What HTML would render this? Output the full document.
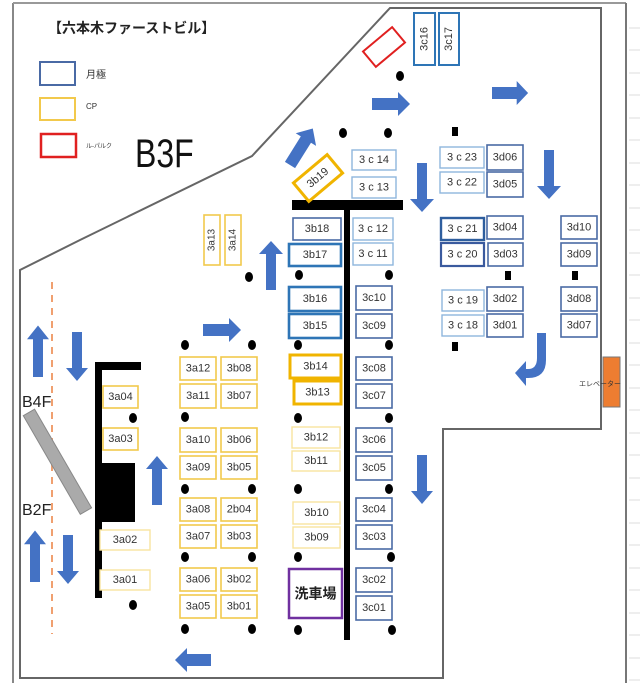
<!DOCTYPE html>
<html><head><meta charset="utf-8"><style>
html,body{margin:0;padding:0;background:#fff;}
svg{display:block;}
text{font-family:"Liberation Sans","Noto Sans CJK JP",sans-serif;fill:#333;}
.l{font-size:11px;text-anchor:middle;dominant-baseline:central;}
.b{fill:#fff;stroke:#4a6aa5;stroke-width:1.6;}
.bt{fill:#fff;stroke:#2e75b6;stroke-width:2.6;}
.bl{fill:#fff;stroke:#8fb6dd;stroke-width:1.4;}
.y{fill:#fff;stroke:#f2c94c;stroke-width:1.6;}
.yt{fill:#fff;stroke:#f0b400;stroke-width:3;}
.yl{fill:#fff;stroke:#f7e3a0;stroke-width:1.4;}
.ar{fill:#4472c4;}
</style></head><body>
<svg width="640" height="692" viewBox="0 0 640 692" xmlns="http://www.w3.org/2000/svg">
<!-- spreadsheet frame -->
<line x1="13" y1="3" x2="13" y2="683" stroke="#888" stroke-width="2"/>
<line x1="13" y1="3" x2="626" y2="3" stroke="#999" stroke-width="2"/>
<line x1="626" y1="3" x2="626" y2="683" stroke="#777" stroke-width="2"/>
<g stroke="#ddd" stroke-width="1">
<line x1="629" y1="28" x2="640" y2="28"/><line x1="629" y1="50" x2="640" y2="50"/><line x1="629" y1="73" x2="640" y2="73"/><line x1="629" y1="95" x2="640" y2="95"/><line x1="629" y1="118" x2="640" y2="118"/><line x1="629" y1="140" x2="640" y2="140"/><line x1="629" y1="163" x2="640" y2="163"/><line x1="629" y1="185" x2="640" y2="185"/><line x1="629" y1="208" x2="640" y2="208"/><line x1="629" y1="230" x2="640" y2="230"/><line x1="629" y1="253" x2="640" y2="253"/><line x1="629" y1="275" x2="640" y2="275"/><line x1="629" y1="298" x2="640" y2="298"/><line x1="629" y1="320" x2="640" y2="320"/><line x1="629" y1="343" x2="640" y2="343"/><line x1="629" y1="365" x2="640" y2="365"/><line x1="629" y1="388" x2="640" y2="388"/><line x1="629" y1="410" x2="640" y2="410"/><line x1="629" y1="433" x2="640" y2="433"/><line x1="629" y1="455" x2="640" y2="455"/><line x1="629" y1="478" x2="640" y2="478"/><line x1="629" y1="500" x2="640" y2="500"/><line x1="629" y1="523" x2="640" y2="523"/><line x1="629" y1="545" x2="640" y2="545"/><line x1="629" y1="568" x2="640" y2="568"/><line x1="629" y1="590" x2="640" y2="590"/><line x1="629" y1="613" x2="640" y2="613"/><line x1="629" y1="635" x2="640" y2="635"/><line x1="629" y1="658" x2="640" y2="658"/><line x1="629" y1="680" x2="640" y2="680"/>
</g>
<!-- building outline -->
<path d="M20,678 V270 L80,240 L252,156 L390,8 H601 V429 H443 V678 Z" fill="none" stroke="#666" stroke-width="2"/>
<!-- title & legend -->
<text x="48" y="33" style="font-size:14px;font-weight:bold;fill:#222">【六本木ファーストビル】</text>
<rect x="40" y="62" width="35" height="23" fill="none" stroke="#4a6aa5" stroke-width="2"/>
<text x="86" y="78" style="font-size:10px">月極</text>
<rect x="40" y="98" width="35" height="22" fill="none" stroke="#f2c94c" stroke-width="2"/>
<text x="86" y="109" style="font-size:8px">CP</text>
<rect x="41" y="134" width="35" height="23" fill="none" stroke="#e02020" stroke-width="2.5"/>
<text x="86" y="148" style="font-size:6px">ル-パルク</text>
<text x="135" y="167" style="font-size:40px;fill:#111" transform="translate(135 167) scale(0.8 1) translate(-135 -167)">B3F</text>
<!-- dashed orange line -->
<line x1="52" y1="282" x2="52" y2="634" stroke="#f0a070" stroke-width="2" stroke-dasharray="7 6"/>
<!-- walls -->
<rect x="292" y="200" width="111" height="10" fill="#000"/>
<rect x="344" y="200" width="6" height="440" fill="#000"/>
<rect x="95" y="362" width="46" height="8" fill="#000"/>
<rect x="95" y="362" width="7" height="236" fill="#000"/>
<rect x="95" y="463" width="40" height="59" fill="#000"/>
<!-- ramp -->
<rect x="-6" y="-57" width="13" height="114" fill="#aaa" stroke="#888" transform="translate(57 462) rotate(-30)"/>
<text x="22" y="407" style="font-size:16px;fill:#222">B4F</text>
<text x="22" y="515" style="font-size:16px;fill:#222">B2F</text>
<!-- elevator -->
<rect x="603" y="357" width="17" height="50" fill="#ed7d31" stroke="#777"/>
<text x="600" y="386" style="font-size:7px;text-anchor:middle">エレベーター</text>
<!-- red rulepark -->
<rect x="-19" y="-10" width="38" height="20" fill="#fff" stroke="#e02020" stroke-width="2" transform="translate(384 47) rotate(-40)"/>
<!-- arrows -->
<g class="ar">
<path d="M0,-6H26V-12L38,0L26,12V6H0Z" transform="translate(372 104)"/>
<path d="M0,-6H26V-12L38,0L26,12V6H0Z" transform="translate(492 93) scale(0.95 1)"/>
<path d="M0,-6H30V-12L43,0L30,12V6H0Z" transform="translate(290 165) rotate(-58)"/>
<path d="M0,-5H36V-12L49,0L36,12V5H0Z" transform="translate(422 163) rotate(90)"/>
<path d="M0,-5H36V-12L49,0L36,12V5H0Z" transform="translate(549 150) rotate(90)"/>
<path d="M0,-5H36V-12L49,0L36,12V5H0Z" transform="translate(271 290) rotate(-90)"/>
<path d="M0,-5H36V-11L49,0L36,11V5H0Z" transform="translate(38 377) rotate(-90) scale(1.05 1)"/>
<path d="M0,-5H36V-11L49,0L36,11V5H0Z" transform="translate(77 332) rotate(90)"/>
<path d="M0,-5H36V-11L49,0L36,11V5H0Z" transform="translate(35 582) rotate(-90) scale(1.05 1)"/>
<path d="M0,-5H36V-11L49,0L36,11V5H0Z" transform="translate(68 535) rotate(90)"/>
<path d="M0,-6H26V-12L38,0L26,12V6H0Z" transform="translate(203 330)"/>
<path d="M0,-5H36V-11L49,0L36,11V5H0Z" transform="translate(157 505) rotate(-90)"/>
<path d="M0,-5H36V-11L49,0L36,11V5H0Z" transform="translate(422 455) rotate(90)"/>
<path d="M0,-6H24V-12L36,0L24,12V6H0Z" transform="translate(211 660) rotate(180)"/>
<path d="M537,333 H546 V360 Q546,378 528,378 H526 V386 L515,373 L526,361 V369 H528 Q537,369 537,358 Z"/>
</g>
<!-- dots -->
<g fill="#000">
<ellipse cx="400" cy="76" rx="4" ry="5"/>
<ellipse cx="343" cy="133" rx="4" ry="5"/><ellipse cx="388" cy="133" rx="4" ry="5"/>
<ellipse cx="249" cy="277" rx="4" ry="5"/>
<ellipse cx="299" cy="275" rx="4" ry="5"/><ellipse cx="389" cy="275" rx="4" ry="5"/>
<rect x="452" y="127" width="6" height="9"/>
<rect x="505" y="271" width="6" height="9"/><rect x="572" y="271" width="6" height="9"/>
<rect x="452" y="342" width="6" height="9"/>
<ellipse cx="185" cy="345" rx="4" ry="5"/><ellipse cx="252" cy="345" rx="4" ry="5"/>
<ellipse cx="298" cy="345" rx="4" ry="5"/><ellipse cx="389" cy="345" rx="4" ry="5"/>
<ellipse cx="133" cy="418" rx="4" ry="5"/><ellipse cx="185" cy="417" rx="4" ry="5"/>
<ellipse cx="298" cy="418" rx="4" ry="5"/><ellipse cx="389" cy="418" rx="4" ry="5"/>
<ellipse cx="185" cy="489" rx="4" ry="5"/><ellipse cx="252" cy="489" rx="4" ry="5"/>
<ellipse cx="298" cy="489" rx="4" ry="5"/><ellipse cx="389" cy="489" rx="4" ry="5"/>
<ellipse cx="185" cy="557" rx="4" ry="5"/><ellipse cx="252" cy="557" rx="4" ry="5"/>
<ellipse cx="298" cy="557" rx="4" ry="5"/><ellipse cx="391" cy="557" rx="4" ry="5"/>
<ellipse cx="133" cy="605" rx="4" ry="5"/>
<ellipse cx="185" cy="629" rx="4" ry="5"/><ellipse cx="252" cy="629" rx="4" ry="5"/>
<ellipse cx="298" cy="630" rx="4" ry="5"/><ellipse cx="392" cy="630" rx="4" ry="5"/>
</g>
<!-- vertical boxes -->
<rect x="414" y="13" width="21" height="52" class="bt" style="stroke-width:2"/>
<text class="l" transform="translate(424.5 39) rotate(-90)">3c16</text>
<rect x="439" y="13" width="20" height="52" class="bt" style="stroke-width:2"/>
<text class="l" transform="translate(449 39) rotate(-90)">3c17</text>
<rect x="204" y="215" width="16" height="50" class="y"/>
<text class="l" style="font-size:10px" transform="translate(212 240) rotate(-90)">3a13</text>
<rect x="225" y="215" width="16" height="50" class="y"/>
<text class="l" style="font-size:10px" transform="translate(233 240) rotate(-90)">3a14</text>
<g transform="translate(318 178) rotate(-40)">
<rect x="-22" y="-12" width="44" height="24" fill="#fff" stroke="#f0b400" stroke-width="3"/>
<text class="l" x="0" y="0">3b19</text></g>
<!-- boxes -->
<g>
<rect x="352" y="150" width="44" height="20" class="bl"/><text class="l" x="374" y="160">3 c 14</text>
<rect x="352" y="177" width="44" height="21" class="bl"/><text class="l" x="374" y="187.5">3 c 13</text>
<rect x="440" y="147" width="44" height="21" class="bl"/><text class="l" x="462" y="157.5">3 c 23</text>
<rect x="440" y="172" width="44" height="21" class="bl"/><text class="l" x="462" y="182.5">3 c 22</text>
<rect x="487" y="145" width="36" height="25" class="b"/><text class="l" x="505" y="157.5">3d06</text>
<rect x="487" y="172" width="36" height="25" class="b"/><text class="l" x="505" y="184.5">3d05</text>
<rect x="293" y="218" width="48" height="22" class="b"/><text class="l" x="317" y="229">3b18</text>
<rect x="289" y="244" width="52" height="22" class="bt"/><text class="l" x="315" y="255">3b17</text>
<rect x="353" y="218" width="40" height="22" class="bl"/><text class="l" x="373" y="229">3 c 12</text>
<rect x="353" y="243" width="40" height="22" class="bl"/><text class="l" x="373" y="254">3 c 11</text>
<rect x="441" y="218" width="43" height="22" class="b" style="stroke:#2e5e9e;stroke-width:2.4"/><text class="l" x="462.5" y="229">3 c 21</text>
<rect x="441" y="243" width="43" height="23" class="b" style="stroke:#3a5a9e;stroke-width:2.2"/><text class="l" x="462.5" y="254.5">3 c 20</text>
<rect x="487" y="216" width="36" height="23" class="b"/><text class="l" x="505" y="227.5">3d04</text>
<rect x="488" y="243" width="35" height="23" class="b"/><text class="l" x="505.5" y="254.5">3d03</text>
<rect x="561" y="216" width="36" height="23" class="b"/><text class="l" x="579" y="227.5">3d10</text>
<rect x="561" y="243" width="36" height="23" class="b"/><text class="l" x="579" y="254.5">3d09</text>
<rect x="289" y="287" width="52" height="24" class="bt"/><text class="l" x="315" y="299">3b16</text>
<rect x="289" y="314" width="52" height="24" class="bt"/><text class="l" x="315" y="326">3b15</text>
<rect x="356" y="286" width="36" height="24" class="b"/><text class="l" x="374" y="298">3c10</text>
<rect x="356" y="314" width="36" height="24" class="b"/><text class="l" x="374" y="326">3c09</text>
<rect x="442" y="290" width="42" height="21" class="bl"/><text class="l" x="463" y="300.5">3 c 19</text>
<rect x="442" y="315" width="42" height="21" class="bl"/><text class="l" x="463" y="325.5">3 c 18</text>
<rect x="487" y="287" width="36" height="24" class="b"/><text class="l" x="505" y="299">3d02</text>
<rect x="487" y="314" width="36" height="23" class="b"/><text class="l" x="505" y="325.5">3d01</text>
<rect x="561" y="287" width="36" height="24" class="b"/><text class="l" x="579" y="299">3d08</text>
<rect x="561" y="314" width="36" height="23" class="b"/><text class="l" x="579" y="325.5">3d07</text>
<!-- left -->
<rect x="103" y="386" width="35" height="22" class="y"/><text class="l" x="120.5" y="397">3a04</text>
<rect x="103" y="428" width="35" height="22" class="y"/><text class="l" x="120.5" y="439">3a03</text>
<rect x="100" y="530" width="50" height="20" class="yl"/><text class="l" x="125" y="540">3a02</text>
<rect x="100" y="570" width="50" height="20" class="yl"/><text class="l" x="125" y="580">3a01</text>
<rect x="180" y="357" width="36" height="23" class="y"/><text class="l" x="198" y="368.5">3a12</text>
<rect x="221" y="357" width="36" height="23" class="y"/><text class="l" x="239" y="368.5">3b08</text>
<rect x="180" y="384" width="36" height="24" class="y"/><text class="l" x="198" y="396">3a11</text>
<rect x="221" y="384" width="36" height="24" class="y"/><text class="l" x="239" y="396">3b07</text>
<rect x="180" y="428" width="36" height="24" class="y"/><text class="l" x="198" y="440">3a10</text>
<rect x="221" y="428" width="36" height="24" class="y"/><text class="l" x="239" y="440">3b06</text>
<rect x="180" y="456" width="36" height="23" class="y"/><text class="l" x="198" y="467.5">3a09</text>
<rect x="221" y="456" width="36" height="23" class="y"/><text class="l" x="239" y="467.5">3b05</text>
<rect x="180" y="498" width="36" height="23" class="y"/><text class="l" x="198" y="509.5">3a08</text>
<rect x="221" y="498" width="36" height="23" class="y"/><text class="l" x="239" y="509.5">2b04</text>
<rect x="180" y="525" width="36" height="23" class="y"/><text class="l" x="198" y="536.5">3a07</text>
<rect x="221" y="525" width="36" height="23" class="y"/><text class="l" x="239" y="536.5">3b03</text>
<rect x="180" y="568" width="36" height="23" class="y"/><text class="l" x="198" y="579.5">3a06</text>
<rect x="221" y="568" width="36" height="23" class="y"/><text class="l" x="239" y="579.5">3b02</text>
<rect x="180" y="595" width="36" height="23" class="y"/><text class="l" x="198" y="606.5">3a05</text>
<rect x="221" y="595" width="36" height="23" class="y"/><text class="l" x="239" y="606.5">3b01</text>
<!-- center -->
<rect x="290" y="355" width="51" height="23" class="yt"/><text class="l" x="315.5" y="366.5">3b14</text>
<rect x="294" y="381" width="47" height="23" class="yt"/><text class="l" x="317.5" y="392.5">3b13</text>
<rect x="292" y="427" width="48" height="21" class="yl"/><text class="l" x="316" y="437.5">3b12</text>
<rect x="292" y="451" width="48" height="20" class="yl"/><text class="l" x="316" y="461">3b11</text>
<rect x="293" y="502" width="47" height="22" class="yl"/><text class="l" x="316.5" y="513">3b10</text>
<rect x="293" y="527" width="47" height="21" class="yl"/><text class="l" x="316.5" y="537.5">3b09</text>
<rect x="289" y="569" width="53" height="49" fill="#fff" stroke="#7030a0" stroke-width="2.5"/><text class="l" x="315.5" y="593.5" style="font-size:14px;font-weight:bold;fill:#222">洗車場</text>
<rect x="356" y="357" width="36" height="23" class="b"/><text class="l" x="374" y="368.5">3c08</text>
<rect x="356" y="384" width="36" height="24" class="b"/><text class="l" x="374" y="396">3c07</text>
<rect x="356" y="428" width="36" height="24" class="b"/><text class="l" x="374" y="440">3c06</text>
<rect x="356" y="456" width="36" height="24" class="b"/><text class="l" x="374" y="468">3c05</text>
<rect x="356" y="498" width="36" height="23" class="b"/><text class="l" x="374" y="509.5">3c04</text>
<rect x="356" y="525" width="36" height="24" class="b"/><text class="l" x="374" y="537">3c03</text>
<rect x="356" y="568" width="36" height="24" class="b"/><text class="l" x="374" y="580">3c02</text>
<rect x="356" y="596" width="36" height="24" class="b"/><text class="l" x="374" y="608">3c01</text>
</g>
</svg>
</body></html>
